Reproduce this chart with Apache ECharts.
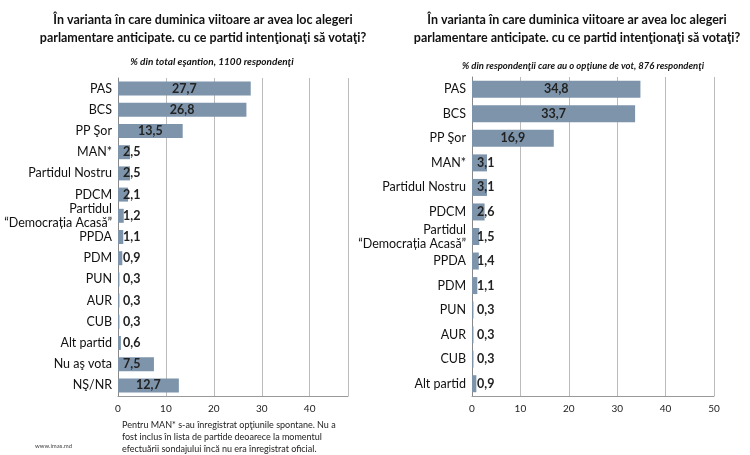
<!DOCTYPE html><html><head><meta charset="utf-8"><script src="https://cdn.jsdelivr.net/npm/echarts@6/dist/echarts.min.js"></script></head><body style="margin:0"><div id="c" style="width:750px;height:455px"></div><script>
const catsL=["PAS","BCS","PP Şor","MAN*","Partidul Nostru","PDCM","Partidul\n“Democrația Acasă”","PPDA","PDM","PUN","AUR","CUB","Alt partid","Nu aş vota","NŞ/NR"];
const valsL=[27.7,26.8,13.5,2.5,2.5,2.1,1.2,1.1,0.9,0.3,0.3,0.3,0.6,7.5,12.7];
const catsR=["PAS","BCS","PP Şor","MAN*","Partidul Nostru","PDCM","Partidul\n“Democrația Acasă”","PPDA","PDM","PUN","AUR","CUB","Alt partid"];
const valsR=[34.8,33.7,16.9,3.1,3.1,2.6,1.5,1.4,1.1,0.3,0.3,0.3,0.9];
const F="Lato";
function yAx(cats,i){return {type:'category',gridIndex:i,data:cats,inverse:true,axisTick:{show:false},axisLine:{lineStyle:{color:'#888'}},axisLabel:{color:'#111',fontSize:12.5,fontFamily:F,margin:6,lineHeight:14}};}
function xAx(max,i){return {type:'value',gridIndex:i,min:0,max:max,interval:10,axisLine:{show:true,lineStyle:{color:'#999'}},axisTick:{show:false},splitLine:{lineStyle:{color:'#bbb'}},axisLabel:{fontSize:10,color:'#222',fontFamily:F,formatter:v=>v%10===0?v:''}};}
function ser(vals,i,bw){return {type:'bar',xAxisIndex:i,yAxisIndex:i,data:vals.map(v=>({value:v,label:{position:v>10?'inside':'insideLeft'}})),barWidth:bw,itemStyle:{color:'#7d94ab'},label:{show:true,fontWeight:'bold',color:'#222',fontSize:12.5,fontFamily:F,formatter:p=>String(p.value).replace('.',',')}};}
const T='În varianta în care duminica viitoare ar avea loc alegeri\nparlamentare anticipate. cu ce partid intenţionaţi să votaţi?';
const ch=echarts.init(document.getElementById('c'));
ch.setOption({animation:false,backgroundColor:'#fff',
title:[
{text:T,left:198,top:6,textAlign:'center',textStyle:{fontSize:12.5,fontWeight:'bold',fontFamily:F,lineHeight:18,color:'#111'}},
{text:'% din total eşantion, 1100 respondenţi',left:207,top:52,textAlign:'center',textStyle:{fontSize:10,fontWeight:'bold',fontStyle:'italic',fontFamily:F,color:'#111'}},
{text:T,left:572,top:6,textAlign:'center',textStyle:{fontSize:12.5,fontWeight:'bold',fontFamily:F,lineHeight:18,color:'#111'}},
{text:'% din respondenţii care au o opţiune de vot, 876 respondenţi',left:578,top:56,textAlign:'center',textStyle:{fontSize:9.5,fontWeight:'bold',fontStyle:'italic',fontFamily:F,color:'#111'}},
{text:'Pentru MAN* s-au înregistrat opţiunile spontane. Nu a\nfost inclus în lista de partide deoarece la momentul\nefectuării sondajului încă nu era înregistrat oficial.',left:117,top:414,textStyle:{fontSize:9,fontWeight:'normal',fontFamily:F,lineHeight:12,color:'#222'}},
{text:'www.imas.md',left:30,top:438,textStyle:{fontSize:6,fontWeight:'normal',fontFamily:F,color:'#444'}}
],
grid:[{left:118,right:402,top:78,bottom:59},{left:472,right:36,top:77,bottom:59}],
xAxis:[xAx(48,0),xAx(50,1)],yAxis:[yAx(catsL,0),yAx(catsR,1)],
series:[ser(valsL,0,14),ser(valsR,1,17)]});
</script></body></html>
